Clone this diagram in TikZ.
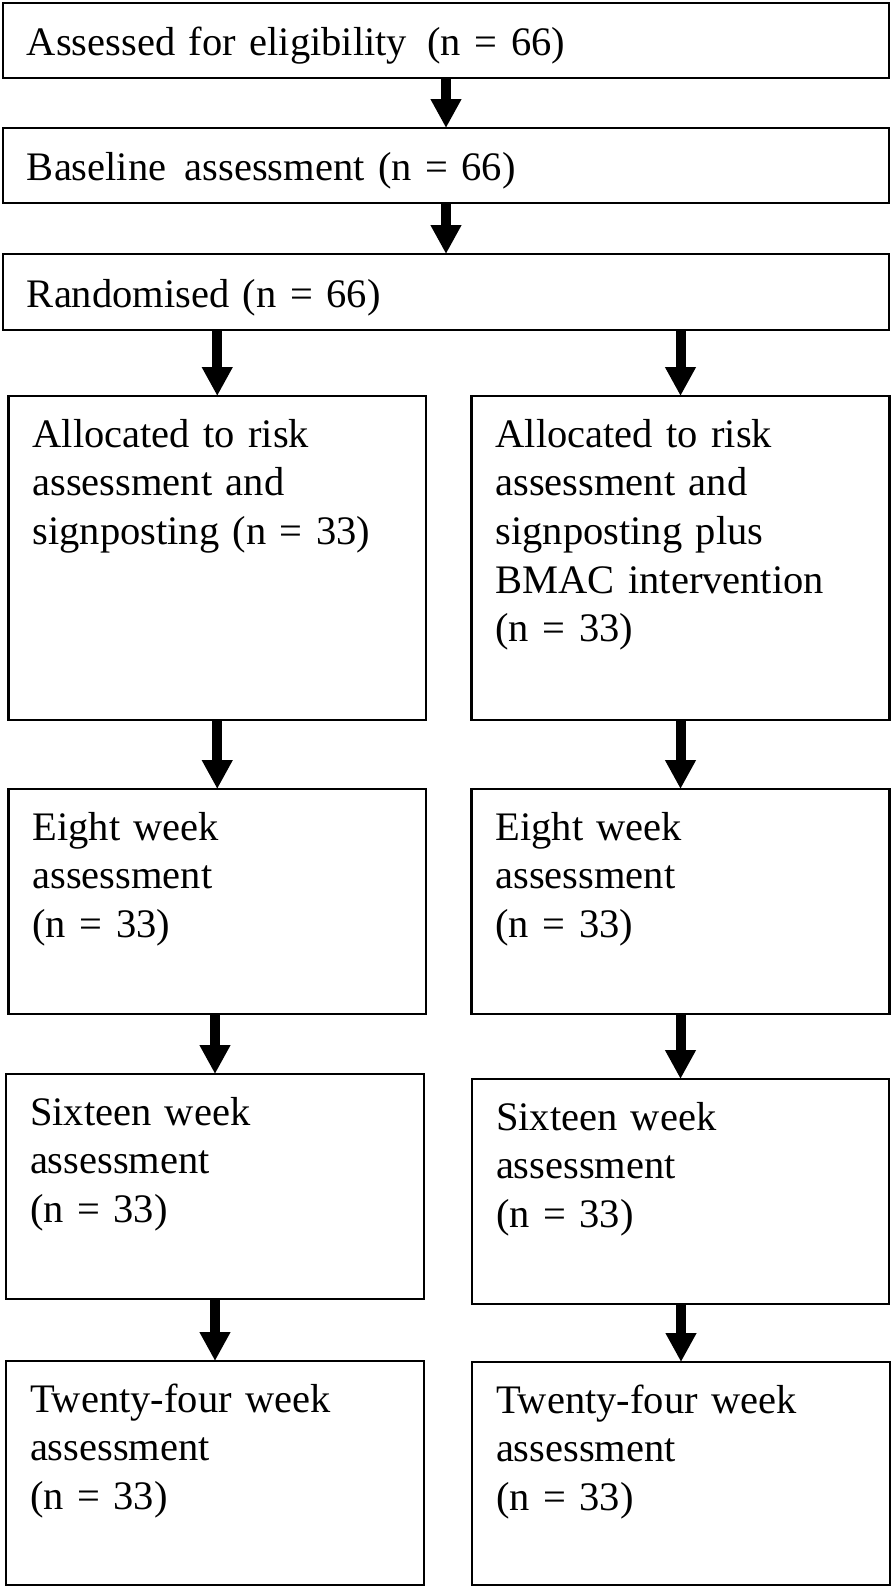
\documentclass[tikz,border=0pt]{standalone}
\usepackage{fontspec}
\setmainfont{Liberation Serif}
\usetikzlibrary{arrows.meta}
\tikzset{
  box/.style={draw, line width=2.4pt, rectangle, anchor=north west, inner xsep=24pt, inner ysep=0pt, outer sep=0pt,
    align=left, font=\fontsize{40.5pt}{48.7pt}\selectfont},
  wide/.style={text width=838pt},
  half/.style={text width=370pt},
  arr/.style={line width=10pt, line cap=butt, -{Triangle[width=29pt,length=29pt]}}
}
\begin{document}
\begin{tikzpicture}[x=1pt,y=-1pt]
\useasboundingbox (0,0) rectangle (893,1590);
\node[box, wide, text height=52pt, text depth=23pt] (b1) at (3,3) {Assessed for eligibility\hspace{0.5em}(n = 66)};
\node[box, wide, text height=52pt, text depth=23pt] (b2) at (3,128) {Baseline\hspace{0.45em}assessment (n = 66)};
\node[box, wide, text height=53pt, text depth=23pt] (b3) at (3,254) {Randomised (n = 66)};
\node[box, half, text width=369.5pt, text height=51pt, text depth=273pt] (l1) at (8.5,396) {Allocated to risk\\assessment and\\signposting (n = 33)};
\node[box, half, text height=51pt, text depth=273pt] (r1) at (471.5,396) {Allocated to risk\\assessment and\\signposting plus\\BMAC intervention\\(n = 33)};
\node[box, half, text width=369.5pt, text height=51pt, text depth=174pt] (l2) at (8.5,789) {Eight week\\assessment\\(n = 33)};
\node[box, half, text height=51pt, text depth=174pt] (r2) at (471.5,789) {Eight week\\assessment\\(n = 33)};
\node[box, half, text height=51pt, text depth=174pt] (l3) at (6,1074) {Sixteen week\\assessment\\(n = 33)};
\node[box, half, text width=369pt, text height=51pt, text depth=174pt] (r3) at (472,1079) {Sixteen week\\assessment\\(n = 33)};
\node[box, half, text height=51pt, text depth=173pt] (l4) at (6,1361) {Twenty-four week\\assessment\\(n = 33)};
\node[box, half, text height=51pt, text depth=172pt] (r4) at (472,1362) {Twenty-four week\\assessment\\(n = 33)};
\draw[arr] (b1.south) -- (b2.north);
\draw[arr] (b2.south) -- (b3.north);
\draw[arr] (l1.north |- b3.south) -- (l1.north);
\draw[arr] (r1.north |- b3.south) -- (r1.north);
\draw[arr] (l2.north |- l1.south) -- (l2.north);
\draw[arr] (r2.north |- r1.south) -- (r2.north);
\draw[arr] (l3.north |- l2.south) -- (l3.north);
\draw[arr] (r3.north |- r2.south) -- (r3.north);
\draw[arr] (l4.north |- l3.south) -- (l4.north);
\draw[arr] (r4.north |- r3.south) -- (r4.north);
\end{tikzpicture}
\end{document}
